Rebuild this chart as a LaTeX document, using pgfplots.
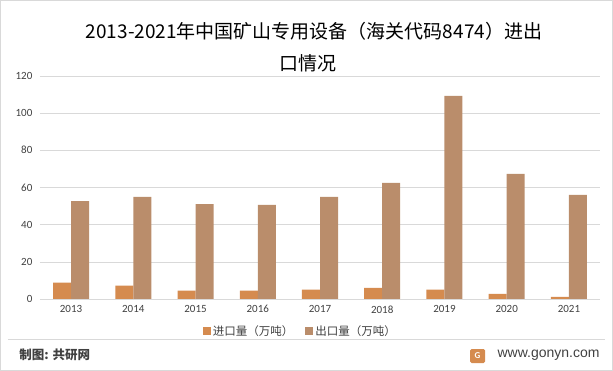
\documentclass[border=0pt]{standalone}
\usepackage{pgfplots}
\pgfplotsset{compat=1.18}
\usepackage{fontspec}
\setmainfont{Carlito}
\newfontfamily\cjk{Noto Sans CJK SC}
\newfontfamily\web{Liberation Sans}
\definecolor{imp}{RGB}{213,139,79}
\definecolor{exp}{RGB}{186,141,107}
\definecolor{gridc}{RGB}{217,217,217}
\definecolor{txt}{RGB}{64,64,64}
\begin{document}
\begin{tikzpicture}[x=1pt,y=1pt]
\draw[gridc, line width=0.8pt] (0.5,-0.5) rectangle (612.5,-370.5);
\node[font=\cjk\fontsize{19}{22}\selectfont, text=black] at (314,-31) {2013-2021年中国矿山专用设备（海关代码8474）进出};
\node[font=\cjk\fontsize{19}{22}\selectfont, text=black] at (308,-63) {口情况};
\begin{axis}[
  at={(40pt,-299pt)}, anchor=south west,
  scale only axis, width=560pt, height=223pt,
  xmin=-0.5, xmax=8.5, ymin=0, ymax=120,
  ytick={0,20,...,120},
  xtick={0,...,8},
  xticklabels={2013,2014,2015,2016,2017,2018,2019,2020,2021},
  axis x line*=bottom, axis y line*=left,
  y axis line style={draw=none},
  x axis line style={gridc, line width=0.8pt, -},
  ymajorgrids, grid style={gridc, line width=0.6pt},
  major tick length=0pt,
  tick label style={font=\fontsize{11}{13}\selectfont, text=txt},
  /pgf/number format/assume math mode=true,
  yticklabel style={xshift=-4pt},
  xticklabel style={yshift=-3pt},
  ybar=0pt, bar width=18pt,
  legend style={at={(0.465,-0.145)}, anchor=center, draw=none, legend columns=2,
    font=\cjk\fontsize{11.5}{13}\selectfont, text=txt,
    /tikz/every even column/.append style={column sep=10pt}},
  legend image code/.code={\fill[#1] (0pt,-4pt) rectangle (8pt,4pt);},
  clip=false,
]
\addplot[fill=imp, draw=none] coordinates {(0,8.8) (1,7.2) (2,4.5) (3,4.5) (4,5.0) (5,6.0) (6,5.0) (7,2.8) (8,1.2)};
\addplot[fill=exp, draw=none] coordinates {(0,52.7) (1,54.9) (2,51.1) (3,50.6) (4,54.9) (5,62.4) (6,109.3) (7,67.3) (8,56.0)};
\legend{进口量（万吨）,出口量（万吨）}
\end{axis}
\draw[gridc, line width=0.8pt] (8,-339) -- (605,-339);
\node[anchor=west, font=\cjk\bfseries\fontsize{12.5}{14}\selectfont, text=txt] at (16,-355) {制图: 共研网};
\node[anchor=east, font=\web\fontsize{14}{16}\selectfont, text=txt] at (603,-355) {www.gonyn.com};
\fill[rounded corners=1.5pt, color=imp] (470,-363) rectangle (485,-349);
\node[font=\bfseries\fontsize{9}{10}\selectfont, text=white] at (477.5,-356) {G};
\end{tikzpicture}
\end{document}
